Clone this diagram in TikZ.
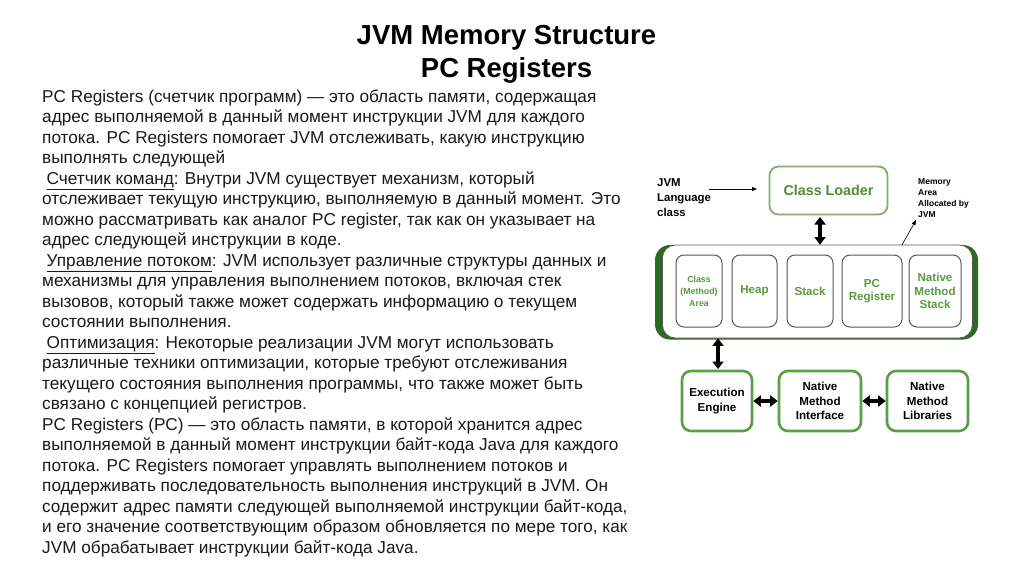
\documentclass[tikz,border=0pt]{standalone}
\usepackage{fontspec}
\setmainfont{Liberation Sans}
\usetikzlibrary{arrows.meta}
\definecolor{clgreen}{HTML}{4E8C35}
\definecolor{clborder}{HTML}{7FAF6A}
\definecolor{ingreen}{HTML}{5A9A3F}
\definecolor{botborder}{HTML}{5C9E45}
\definecolor{darkgreen}{HTML}{2E6A1F}
\definecolor{inborder}{HTML}{555555}
\definecolor{bodytext}{HTML}{1A1A1A}
\tikzset{
  body/.style={anchor=base west, inner sep=0pt, text=bodytext, font=\fontsize{17.2}{20}\selectfont},
  titletext/.style={anchor=base, inner sep=0pt, font=\bfseries\fontsize{27.5}{33}\selectfont},
  inbox/.style={draw=inborder, line width=1pt, rounded corners=8pt, fill=white, minimum height=72pt, inner sep=1pt, align=center, text=ingreen, font=\bfseries\fontsize{11.6}{13.5}\selectfont},
  botbox/.style={draw=botborder, line width=2.6pt, rounded corners=9pt, fill=white, minimum width=70pt, minimum height=60pt, inner sep=1pt, align=center, font=\bfseries\fontsize{11.6}{14.5}\selectfont},
  dblarrow/.style={line width=4pt, {Triangle[width=11pt,length=7.5pt]}-{Triangle[width=11pt,length=7.5pt]}},
  thinarrow/.style={line width=0.8pt, -{Triangle[width=4pt,length=5pt]}},
}
\begin{document}
\begin{tikzpicture}[x=1pt,y=-1pt]
\useasboundingbox[fill=white] (0,0) rectangle (1024,574);
% title
\node[titletext] (t1) at (506.5,44) {JVM Memory Structure};
\node[titletext] (t2) at (506.5,77.5) {PC Registers};
% body text
\node[body] (l1) at (42,102.0) {PC Registers (счетчик программ) — это область памяти, содержащая};
\node[body] (l2) at (42,122.5) {адрес выполняемой в данный момент инструкции JVM для каждого};
\node[body] (l3) at (42,143.0) {потока. PC Registers помогает JVM отслеживать, какую инструкцию};
\node[body] (l4) at (42,163.5) {выполнять следующей};
\node[body] (l5) at (42,184.0) {\hspace*{4.5pt}\underline{Счетчик команд}: Внутри JVM существует механизм, который};
\node[body] (l6) at (42,204.5) {отслеживает текущую инструкцию, выполняемую в данный момент. Это};
\node[body] (l7) at (42,225.0) {можно рассматривать как аналог PC register, так как он указывает на};
\node[body] (l8) at (42,245.5) {адрес следующей инструкции в коде.};
\node[body] (l9) at (42,266.0) {\hspace*{4.5pt}\underline{Управление потоком}: JVM использует различные структуры данных и};
\node[body] (l10) at (42,286.5) {механизмы для управления выполнением потоков, включая стек};
\node[body] (l11) at (42,307.0) {вызовов, который также может содержать информацию о текущем};
\node[body] (l12) at (42,327.5) {состоянии выполнения.};
\node[body] (l13) at (42,348.0) {\hspace*{4.5pt}\underline{Оптимизация}: Некоторые реализации JVM могут использовать};
\node[body] (l14) at (42,368.5) {различные техники оптимизации, которые требуют отслеживания};
\node[body] (l15) at (42,389.0) {текущего состояния выполнения программы, что также может быть};
\node[body] (l16) at (42,409.5) {связано с концепцией регистров.};
\node[body] (l17) at (42,430.0) {PC Registers (PC) — это область памяти, в которой хранится адрес};
\node[body] (l18) at (42,450.5) {выполняемой в данный момент инструкции байт-кода Java для каждого};
\node[body] (l19) at (42,471.0) {потока. PC Registers помогает управлять выполнением потоков и};
\node[body] (l20) at (42,491.5) {поддерживать последовательность выполнения инструкций в JVM. Он};
\node[body] (l21) at (42,512.0) {содержит адрес памяти следующей выполняемой инструкции байт-кода,};
\node[body] (l22) at (42,532.5) {и его значение соответствующим образом обновляется по мере того, как};
\node[body] (l23) at (42,553.0) {JVM обрабатывает инструкции байт-кода Java.};
% diagram
\node[anchor=north west, inner sep=0pt, align=left, font=\bfseries\fontsize{11.4}{15}\selectfont] (lang) at (657,178) {JVM\\Language\\class};
\node[draw=clborder, line width=1.8pt, rounded corners=9pt, minimum width=118pt, minimum height=48pt, text=clgreen, font=\bfseries\fontsize{14.3}{16}\selectfont] (cl) at (828.5,190.5) {Class Loader};
\coordinate (langend) at (757,189);
\draw[thinarrow] (lang.east |- langend) ++(-2,0) coordinate (langstart) -- (langend);
\node[anchor=north west, inner sep=0pt, align=left, font=\bfseries\fontsize{8.5}{11}\selectfont] (memlbl) at (918,178) {Memory\\Area\\Allocated by\\JVM};
% big memory box
\fill[darkgreen, rounded corners=15pt] (655,245) rectangle (978,339.5);
\node[draw=inborder, line width=0.8pt, fill=white, rounded corners=13pt, minimum width=310pt, minimum height=93pt, inner sep=0pt] (mem) at (662,291.5) [anchor=west] {};
\node[inbox, minimum width=46pt, font=\bfseries\fontsize{8.8}{12}\selectfont] (cma) at (699,291) {Class\\(Method)\\Area};
\node[inbox, minimum width=45pt] (heap) at (754.5,291) {Heap};
\node[inbox, minimum width=46pt] (stack) at (810,291) {Stack};
\node[inbox, minimum width=60pt] (pcr) at (872,291) {PC\\Register};
\node[inbox, minimum width=52pt] (nms) at (935,291) {Native\\Method\\Stack};
% bottom boxes
\node[botbox] (ee) at (717,401) {Execution\\Engine};
\node[botbox, minimum width=82pt] (nmi) at (820,401) {Native\\Method\\Interface};
\node[botbox, minimum width=81pt] (nml) at (927.5,401) {Native\\Method\\Libraries};
% connectors
\coordinate (clbot) at (820,217);
\draw[dblarrow] (clbot) -- (clbot |- mem.north);
\coordinate (eetop) at (718,369);
\draw[dblarrow] (eetop |- mem.south) -- (eetop);
\draw[dblarrow] (ee.east) -- (nmi.west);
\draw[dblarrow] (nmi.east) -- (nml.west);
\coordinate (memtip) at (916,220);
\draw[thinarrow, line width=0.6pt] (902,245) -- (memtip);
\end{tikzpicture}
\end{document}
